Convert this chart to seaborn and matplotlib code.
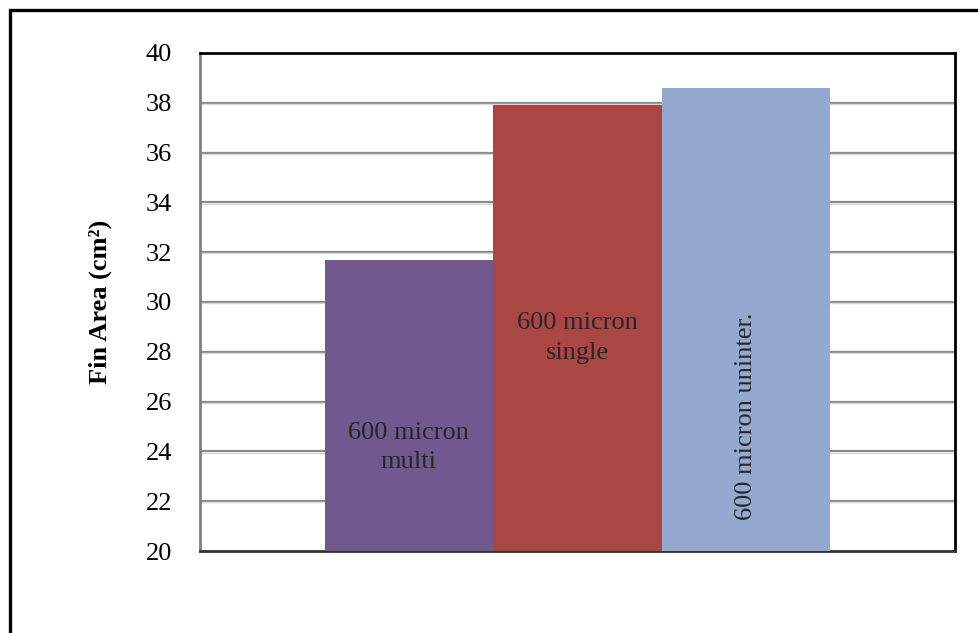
import matplotlib
matplotlib.use("Agg")
import matplotlib.pyplot as plt
import matplotlib.patches as mpatches
import seaborn as sns
import pandas as pd

# Fin area for each 600 micron design
series = ["600 micron multi", "600 micron single", "600 micron uninter."]
fin_area = [31.7, 37.9, 38.6]
colors = ["#71588F", "#AA4644", "#94A9D0"]
yticks = list(range(20, 41, 2))

df = pd.DataFrame({"group": [""] * len(series), "series": series, "area": fin_area})

sns.set_theme(style="white")
SERIF = ["Liberation Serif", "DejaVu Serif"]
plt.rcParams["font.family"] = SERIF
FS = 19

fig = plt.figure(figsize=(9.79, 6.33), dpi=100)
ax = fig.add_axes([200 / 979, 1 - 551 / 633, 755 / 979, 498 / 633])

sns.barplot(data=df, x="group", y="area", hue="series", palette=colors,
            width=0.67, saturation=1, linewidth=0, legend=False, ax=ax, zorder=3)

ax.set_ylim(20, 40)
ax.set_xlim(-0.5, 0.5)
ax.set_yticks(yticks)
ax.set_yticklabels([str(t) for t in yticks], fontsize=FS, color="black",
                   family=SERIF)
ax.set_xticks([])
ax.set_xlabel("")
ax.tick_params(axis="y", length=0, pad=20)
ax.set_ylabel("Fin Area (cm²)", fontsize=FS, fontweight="bold", color="black",
              family=SERIF)
ax.yaxis.set_label_coords(-0.117, 0.5)

# horizontal gridlines
for t in yticks[1:-1]:
    ax.axhline(t, color="#8a8a8a", lw=1.6, zorder=1)
    ax.axhline(t - 0.05, color="#d8d8d8", lw=1.0, zorder=1)

for side in ["top", "right"]:
    ax.spines[side].set_color("black")
    ax.spines[side].set_linewidth(2)
ax.spines["left"].set_color("#808080")
ax.spines["left"].set_linewidth(2)
ax.spines["bottom"].set_color("#333333")
ax.spines["bottom"].set_linewidth(2)

# labels inside the bars
bars = sorted(ax.patches, key=lambda p: p.get_x())
cx = [b.get_x() + b.get_width() / 2 for b in bars]
ax.text(cx[0], 24.15, "600 micron\nmulti", ha="center", va="center",
        fontsize=FS, linespacing=1.45, zorder=5, family=SERIF)
ax.text(cx[1], 28.55, "600 micron\nsingle", ha="center", va="center",
        fontsize=FS, linespacing=1.45, zorder=5, family=SERIF)
ax.text(cx[2], 25.4, "600 micron uninter.", ha="center", va="center",
        rotation=90, fontsize=FS, zorder=5, family=SERIF)

# outer frame of the figure
frame = mpatches.Rectangle((10 / 979, -0.2), 1.2, 1.2 - 10 / 633,
                           transform=fig.transFigure, fill=False,
                           edgecolor="black", lw=2.4)
fig.patches.append(frame)

fig.savefig("out.png", dpi=100)
